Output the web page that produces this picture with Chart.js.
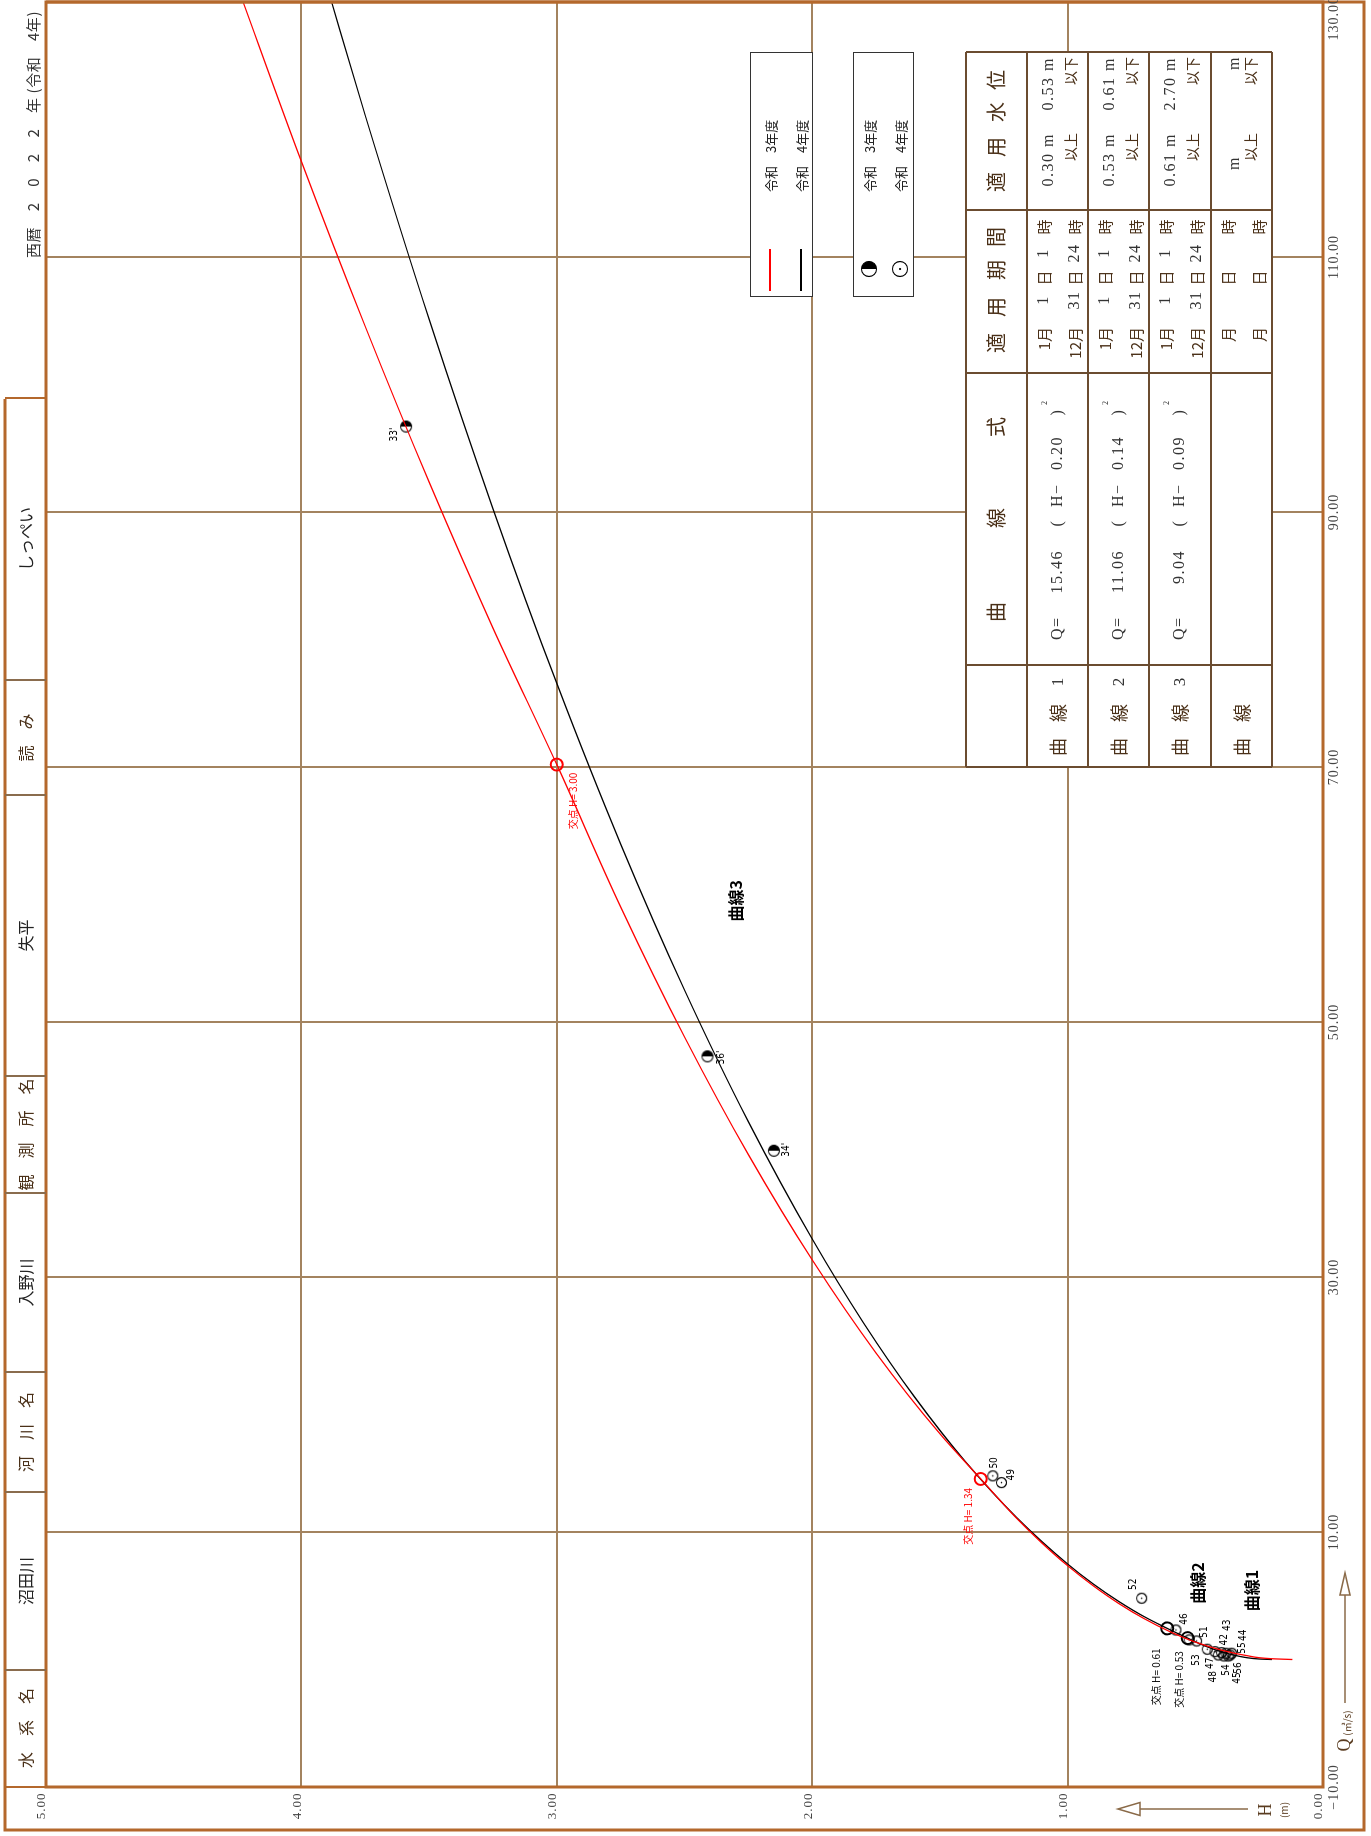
<!DOCTYPE html>
<html lang="ja">
<head>
<meta charset="utf-8">
<title>水位流量曲線 しっぺい 2022</title>
<script src="https://cdn.jsdelivr.net/npm/chart.js@4.4.0/dist/chart.umd.min.js"></script>
<style>
  html, body { margin: 0; padding: 0; background: #fff; overflow: hidden; }
  body { width: 1371px; height: 1836px; position: relative; }
  #sheet {
    position: absolute; left: 0; top: 0; width: 1836px; height: 1371px;
    transform-origin: 0 0; transform: translateY(1836px) rotate(-90deg);
    font-family: "Noto Sans CJK JP", sans-serif; color: #4a3018;
  }
  #chart { position: absolute; left: 0; top: 0; }
  .t { position: absolute; white-space: nowrap; line-height: 1; }
  .box { position: absolute; background: #fff; border: 1.5px solid #333; box-sizing: border-box; }
  .rule { position: absolute; background: #6b4c30; }
  #header {
    position: absolute; left: 48px; top: 5px; width: 1391px; height: 41px;
    border-left: 2px solid #b4682c; border-right: 2px solid #b4682c; box-sizing: border-box;
  }
  #table { position: absolute; left: 1069px; top: 966px; width: 715px; height: 306px; background: #fff; }
</style>
</head>
<body>
<div id="sheet">
  <canvas id="chart" width="1836" height="1371"></canvas>
  <div id="header"></div>
  <div id="table"></div>
</div>
<script>
// ---- values ----
const qTicks = [-10, 10, 30, 50, 70, 90, 110, 130];
const hTicks = [0, 1, 2, 3, 4, 5];

// 令和3年度 curve (red)
const r3CurveH = [0.12, 0.20, 0.30, 0.40, 0.50, 0.60, 0.70, 0.80, 0.90, 1.00, 1.10, 1.20, 1.34,
                  1.50, 1.75, 2.00, 2.25, 2.50, 2.75, 3.00, 3.25, 3.50, 3.75, 4.00, 4.25];
const r3CurveQ = [0.00, 0.06, 0.31, 0.75, 1.37, 2.19, 3.20, 4.40, 5.79, 7.36, 9.13, 11.09, 14.16,
                  17.70, 24.04, 31.34, 39.60, 48.83, 59.03, 70.19, 80.91, 92.35, 104.55, 117.50, 131.21];

// 令和4年度 curve (black)
const r4CurveH = [0.20, 0.25, 0.30, 0.35, 0.40, 0.45, 0.50, 0.53, 0.57, 0.61, 0.70, 0.80, 0.90, 1.00,
                  1.20, 1.40, 1.60, 1.80, 2.00, 2.25, 2.50, 2.75, 3.00, 3.25, 3.50, 3.75, 3.90];
const r4CurveQ = [0.00, 0.04, 0.15, 0.35, 0.62, 0.97, 1.39, 1.68, 2.05, 2.44, 3.36, 4.56, 5.93, 7.49,
                  11.14, 15.51, 20.61, 26.43, 32.98, 42.18, 52.51, 63.96, 76.55, 90.27, 105.12, 121.10, 131.23];

// observations
const r3Labels = ["33'", "36'", "34'"];
const r3Q = [96.7, 47.3, 39.9];
const r3H = [3.59, 2.41, 2.15];

const r4Labels = ['52', '50', '49', '46', '51', '53', '47', '48', '42', '43', '44', '55', '54', '56', '45'];
const r4Q = [4.80, 14.40, 13.87, 2.31, 1.45, 1.53, 0.80, 0.61, 0.53, 0.49, 0.49, 0.35, 0.35, 0.27, 0.27];
const r4H = [0.710, 1.293, 1.259, 0.576, 0.495, 0.524, 0.453, 0.423, 0.397, 0.380, 0.358, 0.364, 0.410, 0.371, 0.388];

// curve junctions (交点)
const crossR3H = [1.34, 3.00];
const crossR3Q = [14.16, 70.19];
const crossR4H = [0.53, 0.61];
const crossR4Q = [1.68, 2.44];

// curve names placed in data space
const curveNames = ['曲線1', '曲線2', '曲線3'];
const curveNameQ = [5.4, 6.0, 59.5];
const curveNameH = [0.28, 0.49, 2.30];

// table
const tableNo = ['1', '2', '3', ''];
const tableCoef = ['15.46', '11.06', '9.04'];
const tableShift = ['0.20', '0.14', '0.09'];
const startMonth = ['1', '1', '1'], startDay = ['1', '1', '1'], startHour = ['1', '1', '1'];
const endMonth = ['12', '12', '12'], endDay = ['31', '31', '31'], endHour = ['24', '24', '24'];
const levelLow = ['0.30', '0.53', '0.61'];
const levelHigh = ['0.53', '0.61', '2.70'];

const headerText = ['水　系　名', '沼田川', '河　川　名', '入野川', '観　測　所　名', '失平', '読　み', 'しっぺい'];

// ---- label nudges (px, landscape) ----
const r3LabelShift = [[-8, -12], [-1, 14], [1, 13]];
const r4LabelShift = [[14, -8], [13, 2], [8, 10], [11, 9], [9, 8], [-20, 7], [-14, 3], [-25, -2],
                      [13, 3], [28, 1], [18, 12], [7, 12], [-15, 8], [-12, 10], [-22, 14]];
const crossR3Shift = [[-9, -13], [-8, 16]];
const crossR4Shift = [[-13, -8], [-20, -11]];

const FRAME = '#b4682c';
const GRID = '#a3835f';
const INK = '#4a3018';
const SERIF = '"Liberation Serif", "DejaVu Serif", serif';
const CJK = '"Noto Sans CJK JP", sans-serif';

const sheet = document.getElementById('sheet');

function put(parent, text, x, y, o = {}) {
  const s = document.createElement('span');
  s.className = 't';
  s.textContent = text;
  s.style.left = x + 'px';
  s.style.top = y + 'px';
  const ax = o.align === 'right' ? '-100%' : o.align === 'left' ? '0' : '-50%';
  s.style.transform = `translate(${ax}, -50%)`;
  s.style.fontSize = (o.size || 15) + 'px';
  if (o.font) s.style.fontFamily = o.font;
  if (o.color) s.style.color = o.color;
  if (o.ls) s.style.letterSpacing = o.ls + 'px';
  parent.appendChild(s);
  return s;
}

function symbol(r, half) {
  const c = document.createElement('canvas');
  const n = Math.ceil(r * 2 + 3);
  c.width = n; c.height = n;
  const g = c.getContext('2d');
  const m = n / 2;
  if (half) {
    g.beginPath();
    g.arc(m, m, r, -Math.PI / 2, Math.PI / 2);
    g.closePath();
    g.fillStyle = '#000';
    g.fill();
  } else {
    g.beginPath();
    g.arc(m, m, Math.max(0.8, r * 0.15), 0, Math.PI * 2);
    g.fillStyle = '#000';
    g.fill();
  }
  g.beginPath();
  g.arc(m, m, r, 0, Math.PI * 2);
  g.lineWidth = 1.2;
  g.strokeStyle = '#000';
  g.stroke();
  return c;
}

// ---- header strip ----
const header = document.getElementById('header');
const headerEdges = [49, 165, 343, 463, 642, 759, 1040, 1155, 1437];
headerText.forEach((t, i) => {
  const a = headerEdges[i] - 49, b = headerEdges[i + 1] - 49;
  if (i > 0) {
    const d = document.createElement('div');
    d.style.cssText = `position:absolute;left:${a - 1}px;top:0;width:1.5px;height:100%;background:#8a6c4e`;
    header.appendChild(d);
  }
  put(header, t, (a + b) / 2, 20, { size: 16, color: i % 2 ? '#222' : INK });
});
put(sheet, '西暦　2　0　2　2　年 (令和　4年)', 1578, 32, { align: 'left', size: 15, color: '#333', ls: 0.6 });

// ---- legend boxes ----
const lg1 = document.createElement('div');
lg1.className = 'box';
lg1.style.cssText = 'left:1539px;top:750px;width:245px;height:63px';
sheet.appendChild(lg1);
[['#ff0000', 19, '令和　3年度'], ['#000', 50, '令和　4年度']].forEach(([c, v, t]) => {
  const l = document.createElement('div');
  l.style.cssText = `position:absolute;left:5px;top:${v - 1}px;width:42px;height:2px;background:${c}`;
  lg1.appendChild(l);
  put(lg1, t, 104, v, { align: 'left', size: 13, color: '#222' });
});
const lg2 = document.createElement('div');
lg2.className = 'box';
lg2.style.cssText = 'left:1539px;top:853px;width:245px;height:61px';
sheet.appendChild(lg2);
[[true, 15, '令和　3年度'], [false, 46, '令和　4年度']].forEach(([h, v, t]) => {
  const c = symbol(7.5, h);
  c.style.cssText = `position:absolute;left:${27 - c.width / 2}px;top:${v - c.height / 2}px`;
  lg2.appendChild(c);
  put(lg2, t, 104, v, { align: 'left', size: 13, color: '#222' });
});

// ---- table ----
const tb = document.getElementById('table');
const cols = [0, 102, 394, 557, 715];
const rows = [0, 61, 122, 183, 245, 306];
cols.forEach(c => {
  const d = document.createElement('div');
  d.className = 'rule';
  d.style.cssText = `left:${c - 0.75}px;top:0;width:1.5px;height:306px`;
  tb.appendChild(d);
});
rows.forEach(r => {
  const d = document.createElement('div');
  d.className = 'rule';
  d.style.cssText = `left:0;top:${r - 0.75}px;width:715px;height:1.5px`;
  tb.appendChild(d);
});
[['曲', 155], ['線', 249], ['式', 340],
 ['適', 424], ['用', 460], ['期', 497], ['間', 530],
 ['適', 585], ['用', 620], ['水', 655], ['位', 687]].forEach(([t, u]) => put(tb, t, u, 30, { size: 20, color: INK }));

tableNo.forEach((no, r) => {
  const top = rows[r + 1], mid = top + 30;
  put(tb, '曲', 20, mid, { size: 18, color: INK });
  put(tb, '線', 54, mid, { size: 18, color: INK });
  if (no) put(tb, no, 85, mid, { size: 17, font: SERIF, color: '#333' });
  const num = { size: 16, font: SERIF, color: '#333', ls: 1.5 };
  const l1 = top + 15.5, l2 = top + 46.5;
  if (r < 3) {
    put(tb, 'Q=', 127, mid, { ...num, align: 'left' });
    put(tb, tableCoef[r], 217, mid, { ...num, align: 'right' });
    put(tb, '(', 244, mid, num);
    put(tb, 'H−', 260, mid, { ...num, align: 'left' });
    put(tb, tableShift[r], 297, mid, { ...num, align: 'left' });
    put(tb, ')', 355, mid, num);
    put(tb, '2', 364, top + 18, { size: 8, font: SERIF, color: '#333' });

    put(tb, startMonth[r] + '月', 440, l1, { size: 15, align: 'right', color: INK });
    put(tb, startDay[r], 467, l1, num);
    put(tb, '日', 489, l1, { size: 15, color: INK });
    put(tb, startHour[r], 514, l1, num);
    put(tb, '時', 540, l1, { size: 15, color: INK });
    put(tb, endMonth[r] + '月', 440, l2, { size: 15, align: 'right', color: INK });
    put(tb, endDay[r], 467, l2, num);
    put(tb, '日', 489, l2, { size: 15, color: INK });
    put(tb, endHour[r], 514, l2, num);
    put(tb, '時', 540, l2, { size: 15, color: INK });

    put(tb, levelLow[r] + ' m', 634, top + 20.5, { ...num, align: 'right' });
    put(tb, '以上', 634, top + 43, { size: 14, align: 'right', color: INK });
    put(tb, levelHigh[r] + ' m', 710, top + 20.5, { ...num, align: 'right' });
    put(tb, '以下', 710, top + 43, { size: 14, align: 'right', color: INK });
  } else {
    [l1, l2].forEach(v => {
      put(tb, '月', 440, v, { size: 15, align: 'right', color: INK });
      put(tb, '日', 489, v, { size: 15, color: INK });
      put(tb, '時', 540, v, { size: 15, color: INK });
    });
    put(tb, 'm', 604, top + 23, num);
    put(tb, '以上', 634, top + 39, { size: 14, align: 'right', color: INK });
    put(tb, 'm', 704, top + 23, num);
    put(tb, '以下', 710, top + 39, { size: 14, align: 'right', color: INK });
  }
});

// ---- chart ----
function arrow(ctx, x1, y1, x2, y2, head, half) {
  const L = Math.hypot(x2 - x1, y2 - y1), ux = (x2 - x1) / L, uy = (y2 - y1) / L;
  const bx = x2 - ux * head, by = y2 - uy * head;
  ctx.beginPath(); ctx.moveTo(x1, y1); ctx.lineTo(bx, by); ctx.stroke();
  ctx.beginPath();
  ctx.moveTo(x2, y2);
  ctx.lineTo(bx - uy * half, by + ux * half);
  ctx.lineTo(bx + uy * half, by - ux * half);
  ctx.closePath();
  ctx.stroke();
}

const decorations = {
  id: 'decorations',
  afterDraw(chart) {
    const { ctx, chartArea: a, scales: { x, y } } = chart;
    ctx.save();

    // frame
    ctx.strokeStyle = FRAME;
    ctx.lineWidth = 3;
    ctx.strokeRect(a.left, a.top, a.right - a.left, a.bottom - a.top);
    ctx.beginPath();
    ctx.moveTo(1437, a.top - 41);
    ctx.lineTo(a.left - 43, a.top - 41);
    ctx.lineTo(a.left - 43, a.bottom + 41);
    ctx.lineTo(a.right, a.bottom + 41);
    ctx.lineTo(a.right, a.top);
    ctx.stroke();

    // tick labels
    ctx.fillStyle = '#444';
    ctx.font = '14px ' + SERIF;
    ctx.textAlign = 'center';
    ctx.textBaseline = 'middle';
    ctx.letterSpacing = '1px';
    qTicks.forEach(q => {
      const t = q.toFixed(2).replace('-', '−');
      const w = ctx.measureText(t).width;
      const px = Math.min(x.getPixelForValue(q), chart.width + 4 - w / 2);
      ctx.fillText(t, px, a.bottom + 11);
    });
    ctx.font = '13px ' + SERIF;
    hTicks.forEach(h => ctx.fillText(h.toFixed(2), a.left - 19, y.getPixelForValue(h) - 4));
    ctx.letterSpacing = '0px';

    // axis titles
    ctx.strokeStyle = '#8a6a48';
    ctx.lineWidth = 1.5;
    arrow(ctx, a.left + 84, a.bottom + 22, a.left + 214, a.bottom + 22, 22, 5);
    arrow(ctx, a.left - 22, a.bottom - 75, a.left - 22, a.bottom - 205, 22, 6.5);
    ctx.fillStyle = '#5a3c20';
    ctx.font = '18px ' + SERIF;
    ctx.fillText('Q', a.left + 42, a.bottom + 22);
    ctx.fillText('H', a.left - 23, a.bottom - 57);
    ctx.font = '10px ' + CJK;
    ctx.fillText('(㎥/s)', a.left + 64, a.bottom + 24);
    ctx.fillText('(m)', a.left - 23, a.bottom - 39);

    // observation labels
    ctx.fillStyle = '#000';
    ctx.font = '10px "DejaVu Sans Condensed", "Liberation Sans", sans-serif';
    r3Labels.forEach((t, i) => {
      const [du, dv] = r3LabelShift[i];
      ctx.fillText(t, x.getPixelForValue(r3Q[i]) + du, y.getPixelForValue(r3H[i]) + dv);
    });
    r4Labels.forEach((t, i) => {
      const [du, dv] = r4LabelShift[i];
      ctx.fillText(t, x.getPixelForValue(r4Q[i]) + du, y.getPixelForValue(r4H[i]) + dv);
    });

    // junction labels
    ctx.font = '10px ' + CJK;
    ctx.textAlign = 'right';
    ctx.fillStyle = '#ff0000';
    crossR3H.forEach((h, i) => {
      const [du, dv] = crossR3Shift[i];
      ctx.fillText('交点 H= ' + h.toFixed(2), x.getPixelForValue(crossR3Q[i]) + du, y.getPixelForValue(h) + dv);
    });
    ctx.fillStyle = '#000';
    crossR4H.forEach((h, i) => {
      const [du, dv] = crossR4Shift[i];
      ctx.fillText('交点 H= ' + h.toFixed(2), x.getPixelForValue(crossR4Q[i]) + du, y.getPixelForValue(h) + dv);
    });

    // curve names
    ctx.textAlign = 'center';
    ctx.font = 'bold 16px ' + CJK;
    curveNames.forEach((t, i) => ctx.fillText(t, x.getPixelForValue(curveNameQ[i]), y.getPixelForValue(curveNameH[i])));

    ctx.restore();
  }
};

const toXY = (qs, hs) => qs.map((q, i) => ({ x: q, y: hs[i] }));

new Chart(document.getElementById('chart').getContext('2d'), {
  type: 'scatter',
  data: {
    datasets: [
      {
        label: '令和3年度',
        data: toXY(r3CurveQ, r3CurveH),
        showLine: true, pointRadius: 0, borderColor: '#ff0000', borderWidth: 1.3,
        cubicInterpolationMode: 'monotone'
      },
      {
        label: '令和4年度',
        data: toXY(r4CurveQ, r4CurveH),
        showLine: true, pointRadius: 0, borderColor: '#000', borderWidth: 1.3,
        cubicInterpolationMode: 'monotone'
      },
      {
        label: '交点 令和3年度',
        data: toXY(crossR3Q, crossR3H),
        pointStyle: 'circle', pointRadius: 6, borderWidth: 2,
        borderColor: '#ff0000', backgroundColor: 'rgba(0,0,0,0)'
      },
      {
        label: '交点 令和4年度',
        data: toXY(crossR4Q, crossR4H),
        pointStyle: 'circle', pointRadius: 6, borderWidth: 2,
        borderColor: '#000', backgroundColor: 'rgba(0,0,0,0)'
      },
      {
        label: '観測 令和4年度',
        data: toXY(r4Q, r4H),
        pointStyle: symbol(5, false)
      },
      {
        label: '観測 令和3年度',
        data: toXY(r3Q, r3H),
        pointStyle: symbol(5.5, true)
      }
    ]
  },
  options: {
    responsive: false,
    animation: false,
    devicePixelRatio: 1,
    layout: { autoPadding: false, padding: { left: 49, right: 2, top: 46, bottom: 48 } },
    plugins: { legend: { display: false }, tooltip: { enabled: false } },
    scales: {
      x: {
        type: 'linear', min: -10, max: 130,
        afterBuildTicks: s => { s.ticks = qTicks.map(v => ({ value: v })); },
        ticks: { display: false },
        grid: { color: GRID, lineWidth: 2, drawTicks: false },
        border: { display: false }
      },
      y: {
        type: 'linear', min: 0, max: 5,
        afterBuildTicks: s => { s.ticks = hTicks.map(v => ({ value: v })); },
        ticks: { display: false },
        grid: { color: GRID, lineWidth: 2, drawTicks: false },
        border: { display: false }
      }
    }
  },
  plugins: [decorations]
});
</script>
</body>
</html>
